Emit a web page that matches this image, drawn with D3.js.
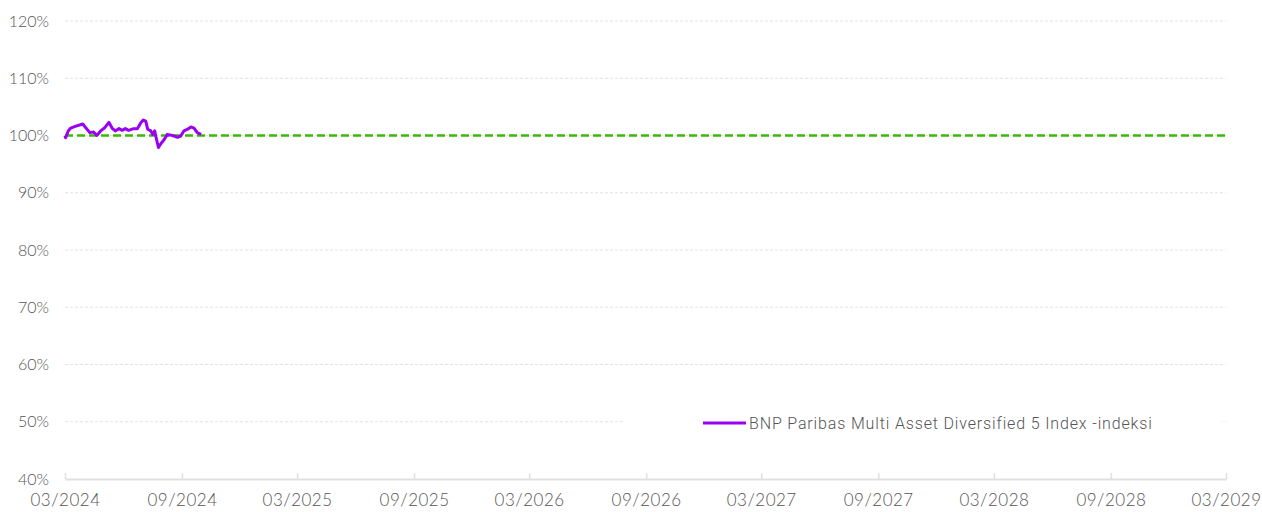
<!DOCTYPE html>
<html>
<head>
<meta charset="utf-8">
<script src="https://cdn.jsdelivr.net/npm/d3@7"></script>
<style>
  html, body { margin: 0; padding: 0; background: #fff; }
  svg { display: block; }
</style>
</head>
<body>
<svg id="chart" width="1262" height="512"></svg>
<script>
// ---- data ----
const seriesName = "BNP Paribas Multi Asset Diversified 5 Index -indeksi";
const dates = [
  "2024-03-01","2024-03-02","2024-03-06","2024-03-10","2024-03-17","2024-03-29","2024-04-03",
  "2024-04-09","2024-04-15","2024-04-20","2024-04-26","2024-05-02","2024-05-09","2024-05-14",
  "2024-05-19","2024-05-25","2024-05-30","2024-06-04","2024-06-09","2024-06-17","2024-06-23",
  "2024-06-28","2024-07-02","2024-07-06","2024-07-09","2024-07-14","2024-07-17","2024-07-20",
  "2024-07-23","2024-07-26","2024-07-30","2024-08-04","2024-08-09","2024-08-17","2024-08-25",
  "2024-08-30","2024-09-04","2024-09-10","2024-09-15","2024-09-20","2024-09-25","2024-10-01"
];
const values = [
  100.0, 99.6, 100.8, 101.3, 101.6, 102.0, 101.3,
  100.5, 100.6, 100.0, 100.8, 101.3, 102.3, 101.3,
  100.8, 101.2, 100.9, 101.2, 100.9, 101.2, 101.2,
  102.2, 102.7, 102.5, 101.1, 100.8, 100.2, 100.8,
  99.3, 97.9, 98.6, 99.3, 100.2, 100.0, 99.7,
  99.9, 100.8, 101.1, 101.5, 101.3, 100.5, 100.2
];
const baselineValue = 100;
const yTicks = [40, 50, 60, 70, 80, 90, 100, 110, 120];
const xTickDates = ["2024-03-01","2024-09-01","2025-03-01","2025-09-01","2026-03-01","2026-09-01",
                    "2027-03-01","2027-09-01","2028-03-01","2028-09-01","2029-03-01"];

// ---- layout ----
const svg = d3.select("#chart");
const plotL = 65, plotR = 1226, plotT = 21, plotB = 479;
const parse = d3.timeParse("%Y-%m-%d");
const fmt = d3.timeFormat("%m/%Y");

const x = d3.scaleTime()
  .domain([parse(xTickDates[0]), parse(xTickDates[xTickDates.length - 1])])
  .range([plotL, plotR]);
const y = d3.scaleLinear().domain([40, 120]).range([plotB, plotT]);

const font = "Lato, 'Open Sans', sans-serif";
const textColor = "#555";

// gridlines
svg.append("g").selectAll("line")
  .data(yTicks.filter(d => d !== 40))
  .join("line")
  .attr("x1", plotL).attr("x2", plotR)
  .attr("y1", d => y(d)).attr("y2", d => y(d))
  .attr("stroke", "#e3e3e3").attr("stroke-width", 1)
  .attr("stroke-dasharray", "3,2");

// y labels
svg.append("g").selectAll("text")
  .data(yTicks)
  .join("text")
  .attr("x", 49).attr("y", d => y(d))
  .attr("dy", "0.35em")
  .attr("text-anchor", "end")
  .attr("font-family", font).attr("font-size", 16).attr("font-weight", 300)
  .attr("fill", textColor)
  .text(d => d + "%");

// x axis
const xAxis = d3.axisBottom(x)
  .tickValues(xTickDates.map(parse))
  .tickSize(0)
  .tickFormat(fmt);
const gx = svg.append("g").attr("transform", `translate(0,${plotB})`).call(xAxis);
gx.select(".domain").attr("stroke", "#e0e0e0").attr("stroke-width", 2);
gx.selectAll(".tick text")
  .attr("dy", 0).attr("y", 27)
  .attr("font-family", font).attr("font-size", 17).attr("font-weight", 300)
  .attr("letter-spacing", "0.5px")
  .attr("fill", textColor);
gx.selectAll(".tick").append("line")
  .attr("y1", 0).attr("y2", -6)
  .attr("stroke", "#e0e0e0").attr("stroke-width", 1.5);

// baseline 100%
svg.append("line")
  .attr("x1", x.range()[0]).attr("x2", x.range()[1])
  .attr("y1", y(baselineValue)).attr("y2", y(baselineValue))
  .attr("stroke", "#3db80a").attr("stroke-width", 2.5)
  .attr("stroke-dasharray", "8,4");

// series line
const pts = dates.map((d, i) => ({ d: parse(d), v: values[i] }));
svg.append("path")
  .datum(pts)
  .attr("fill", "none")
  .attr("stroke", "#9b00f2")
  .attr("stroke-width", 3)
  .attr("stroke-linejoin", "round")
  .attr("d", d3.line().x(p => x(p.d)).y(p => y(p.v)));

// legend
const lg = svg.append("g");
lg.append("rect")
  .attr("x", 625).attr("y", 410).attr("width", 597).attr("height", 26)
  .attr("fill", "#fff");
lg.append("line")
  .attr("x1", 703).attr("x2", 746).attr("y1", 423).attr("y2", 423)
  .attr("stroke", "#9b00f2").attr("stroke-width", 3);
lg.append("text")
  .attr("x", 749).attr("y", 423).attr("dy", "0.35em")
  .attr("font-family", "Roboto, sans-serif").attr("font-size", 16).attr("font-weight", 300)
  .attr("letter-spacing", "0.85px")
  .attr("fill", textColor)
  .text(seriesName);
</script>
</body>
</html>
